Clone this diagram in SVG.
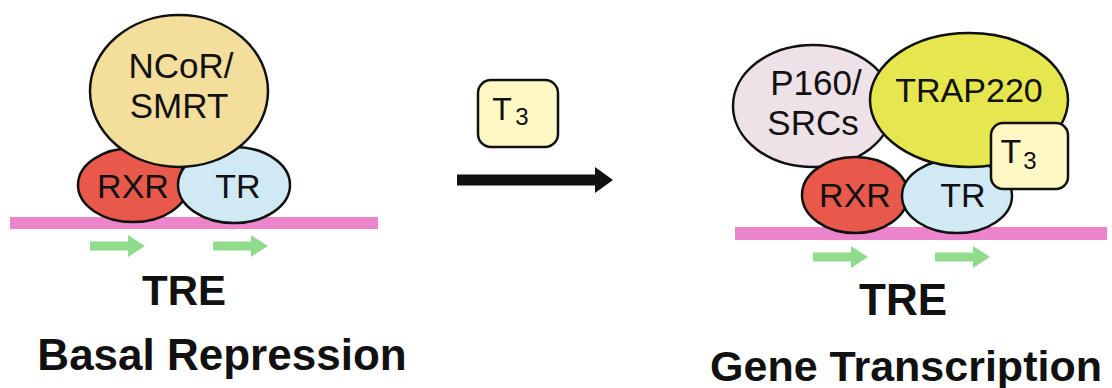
<svg xmlns="http://www.w3.org/2000/svg" width="1112" height="388" viewBox="0 0 1112 388">
<style>
.ol{stroke:#111;stroke-width:2.5}
.lbl{font-family:"Liberation Sans",Arial,sans-serif;fill:#111;text-anchor:middle}
.big{font-family:"Liberation Sans",Arial,sans-serif;font-weight:bold;fill:#111;text-anchor:middle}
.dna{fill:#EC84CC}
.grn{fill:#90DB8C}
</style>
<defs>
<path id="ga" d="M0,-4.5 H38 V-11 L55,0 L38,11 V4.5 H0 Z"/>
</defs>
<rect width="1112" height="388" fill="#fff"/>

<g id="left">
  <rect class="dna" x="10" y="217" width="368" height="12"/>
  <use href="#ga" class="grn" x="90" y="246"/>
  <use href="#ga" class="grn" x="213" y="246"/>
  <g id="rxr-left">
    <ellipse class="ol" cx="133" cy="185" rx="55" ry="37" fill="#E8594B"/>
    <text class="lbl" x="133" y="198" font-size="34">RXR</text>
  </g>
  <g id="tr-left">
    <ellipse class="ol" cx="234" cy="185" rx="56" ry="38" fill="#CFEAF4"/>
    <text class="lbl" x="238" y="198" font-size="34">TR</text>
  </g>
  <g id="ncor">
    <ellipse class="ol" cx="179" cy="91" rx="89" ry="76" fill="#F4DE9C"/>
    <text class="lbl" x="181" y="78" font-size="35">NCoR/</text>
    <text class="lbl" x="179" y="118" font-size="35">SMRT</text>
  </g>
  <text class="big" x="184" y="305" font-size="42">TRE</text>
  <text class="big" x="222" y="370" font-size="44">Basal Repression</text>
</g>

<g id="middle">
  <g id="t3-free">
    <rect class="ol" x="478" y="80" width="80" height="67" rx="13" fill="#FFF8C4"/>
    <text class="lbl" x="502" y="120" font-size="32">T</text>
    <text class="lbl" x="522" y="125" font-size="24">3</text>
  </g>
</g>

<g id="connectors">
  <path d="M457,174.5 H595 V167 L613,180 L595,193 V185.5 H457 Z" fill="#111"/>
</g>

<g id="right">
  <rect class="dna" x="735" y="227" width="372" height="13"/>
  <use href="#ga" class="grn" x="813" y="257"/>
  <use href="#ga" class="grn" x="935" y="257"/>
  <g id="p160">
    <ellipse class="ol" cx="813" cy="106" rx="80" ry="61" fill="#EEE1E7"/>
    <text class="lbl" x="816" y="95" font-size="35">P160/</text>
    <text class="lbl" x="813" y="135" font-size="35">SRCs</text>
  </g>
  <g id="rxr-right">
    <ellipse class="ol" cx="855" cy="195" rx="53" ry="38" fill="#E8594B"/>
    <text class="lbl" x="855" y="207" font-size="34">RXR</text>
  </g>
  <g id="tr-right">
    <ellipse class="ol" cx="957" cy="196" rx="55" ry="37" fill="#CFEAF4"/>
    <text class="lbl" x="963" y="207" font-size="34">TR</text>
  </g>
  <g id="trap220">
    <ellipse class="ol" cx="969" cy="100" rx="99" ry="67" fill="#E6E64E"/>
    <text class="lbl" x="969" y="102" font-size="34">TRAP220</text>
  </g>
  <g id="t3-bound">
    <rect class="ol" x="991" y="123" width="77" height="66" rx="12" fill="#FFF8C4"/>
    <text class="lbl" x="1011" y="163" font-size="34">T</text>
    <text class="lbl" x="1030" y="169" font-size="24">3</text>
  </g>
  <text class="big" x="903" y="315" font-size="44">TRE</text>
  <text class="big" x="906" y="381" font-size="43">Gene Transcription</text>
</g>
</svg>
